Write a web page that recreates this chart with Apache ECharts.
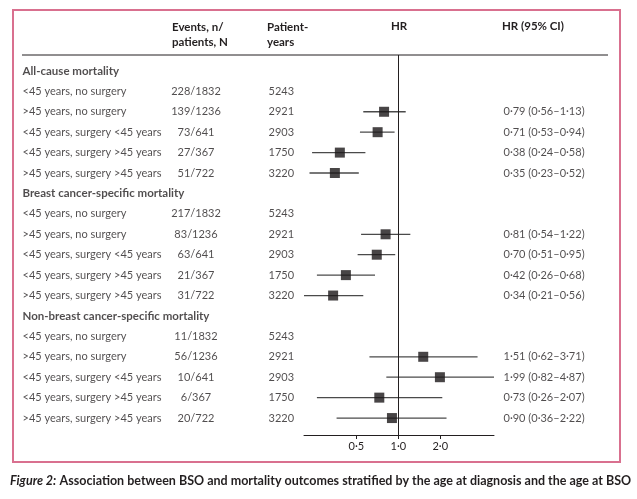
<!DOCTYPE html>
<html>
<head>
<meta charset="utf-8">
<script src="https://cdn.jsdelivr.net/npm/echarts@6/dist/echarts.min.js"></script>
<style>
  html, body { margin: 0; padding: 0; background: #fff; }
  #chart { width: 637px; height: 499px; }
</style>
</head>
<body>
<div id="chart"></div>
<script>
// outcome groups and subgroups (rows of the table)
const groups = ['All-cause mortality', 'Breast cancer-specific mortality', 'Non-breast cancer-specific mortality'];
const subgroups = ['<45 years, no surgery', '>45 years, no surgery', '<45 years, surgery <45 years',
    '<45 years, surgery >45 years', '>45 years, surgery >45 years'];

const events = [
    ['228/1832', '139/1236', '73/641', '27/367', '51/722'],
    ['217/1832', '83/1236', '63/641', '21/367', '31/722'],
    ['11/1832', '56/1236', '10/641', '6/367', '20/722']
];
const patientYears = ['5243', '2921', '2903', '1750', '3220'];

// hazard ratios and 95% CI, first subgroup is the reference
const hr = [
    [null, 0.79, 0.71, 0.38, 0.35],
    [null, 0.81, 0.70, 0.42, 0.34],
    [null, 1.51, 1.99, 0.73, 0.90]
];
const ciLow = [
    [null, 0.56, 0.53, 0.24, 0.23],
    [null, 0.54, 0.51, 0.26, 0.21],
    [null, 0.62, 0.82, 0.26, 0.36]
];
const ciHigh = [
    [null, 1.13, 0.94, 0.58, 0.52],
    [null, 1.22, 0.95, 0.68, 0.56],
    [null, 3.71, 4.87, 2.07, 2.22]
];
const hrTicks = [0.5, 1, 2];

const FONT = 'Lato';
const INK = '#231f20';

function fmt(v, digits) {
    return v.toFixed(digits).replace('.', '\u00b7');
}

// build row data: group header + 5 subgroups per group
const labelRows = [], groupRows = [], eventRows = [], pyRows = [], ciTextRows = [];
const points = [], bars = [];
let row = 0;
groups.forEach((g, gi) => {
    groupRows.push({ value: [22, row], label: { formatter: g } });
    row++;
    subgroups.forEach((s, si) => {
        labelRows.push({ value: [22, row], label: { formatter: s } });
        eventRows.push({ value: [196, row], label: { formatter: events[gi][si] } });
        pyRows.push({ value: [268, row], label: { formatter: patientYears[si] } });
        if (hr[gi][si] !== null) {
            points.push([hr[gi][si], row]);
            bars.push([ciLow[gi][si], ciHigh[gi][si], row]);
            ciTextRows.push({
                value: [503, row],
                label: { formatter: fmt(hr[gi][si], 2) + ' (' + fmt(ciLow[gi][si], 2) + '\u2013' + fmt(ciHigh[gi][si], 2) + ')' }
            });
        }
        row++;
    });
});

function textSeries(data, align, bold) {
    return {
        type: 'scatter',
        xAxisIndex: 0,
        yAxisIndex: 0,
        symbolSize: 1,
        itemStyle: { color: 'rgba(0,0,0,0)' },
        silent: true,
        data: data,
        label: {
            show: true,
            position: align === 'center' ? 'inside' : 'right',
            distance: 0,
            color: INK,
            fontFamily: FONT,
            fontSize: bold ? 11.5 : 11,
            fontWeight: bold ? 'bold' : 'normal'
        }
    };
}

const chart = echarts.init(document.getElementById('chart'), null, { renderer: 'canvas' });

const yCommon = {
    type: 'value',
    inverse: true,
    min: -0.78,
    max: 17.83,
    show: false
};

chart.setOption({
    animation: false,
    backgroundColor: '#fff',
    grid: [
        { left: 0, right: 0, top: 55, bottom: 64 },
        { left: 304, right: 143, top: 55, bottom: 64 }
    ],
    xAxis: [
        { gridIndex: 0, type: 'value', min: 0, max: 637, show: false },
        {
            gridIndex: 1,
            type: 'log',
            logBase: 2,
            min: 0.21,
            max: 4.87,
            position: 'bottom',
            axisLine: { show: true, onZero: false, lineStyle: { color: INK, width: 1 } },
            axisTick: { show: true, customValues: hrTicks, length: 4, lineStyle: { color: INK } },
            axisLabel: {
                customValues: hrTicks,
                formatter: v => fmt(v, 1),
                color: INK,
                fontFamily: FONT,
                fontSize: 11,
                margin: 6
            },
            splitLine: { show: false }
        }
    ],
    yAxis: [
        Object.assign({ gridIndex: 0 }, yCommon),
        Object.assign({ gridIndex: 1 }, yCommon)
    ],
    series: [
        textSeries(groupRows, 'left', true),
        textSeries(labelRows, 'left', false),
        textSeries(eventRows, 'center', false),
        textSeries(pyRows, 'left', false),
        textSeries(ciTextRows, 'left', false),
        {
            type: 'custom',
            xAxisIndex: 1,
            yAxisIndex: 1,
            data: bars,
            silent: true,
            renderItem: (params, api) => {
                const a = api.coord([api.value(0), api.value(2)]);
                const b = api.coord([api.value(1), api.value(2)]);
                return {
                    type: 'line',
                    shape: { x1: a[0], y1: a[1], x2: b[0], y2: b[1] },
                    style: { stroke: '#4a4a4a', lineWidth: 1.3 }
                };
            },
            z: 2
        },
        {
            type: 'scatter',
            xAxisIndex: 1,
            yAxisIndex: 1,
            symbol: 'rect',
            symbolSize: 10,
            itemStyle: { color: '#1a1718' },
            data: points,
            silent: true,
            z: 3,
            markLine: {
                silent: true,
                symbol: 'none',
                label: { show: false },
                lineStyle: { color: INK, width: 1, type: 'solid' },
                data: [{ xAxis: 1 }]
            }
        }
    ],
    graphic: [
        {
            type: 'rect',
            shape: { x: 13, y: 10, width: 607, height: 452 },
            style: { fill: 'none', stroke: '#d9708f', lineWidth: 2 }
        },
        {
            type: 'line',
            shape: { x1: 22, y1: 55, x2: 608, y2: 55 },
            style: { stroke: INK, lineWidth: 1 }
        },
        {
            type: 'text', left: 172, top: 20,
            style: { text: 'Events, n/\npatients, N', fill: INK, font: 'bold 11.5px ' + FONT, lineHeight: 15 }
        },
        {
            type: 'text', left: 267, top: 20,
            style: { text: 'Patient-\nyears', fill: INK, font: 'bold 11.5px ' + FONT, lineHeight: 15 }
        },
        {
            type: 'text', left: 391, top: 20,
            style: { text: 'HR', fill: INK, font: 'bold 11.5px ' + FONT }
        },
        {
            type: 'text', left: 502, top: 20,
            style: { text: 'HR (95% CI)', fill: INK, font: 'bold 11.5px ' + FONT }
        },
        {
            type: 'text', left: 10, top: 474,
            style: {
                text: '{i|Figure 2:} {b|Association between BSO and mortality outcomes stratified by the age at diagnosis and the age at BSO}',
                rich: {
                    i: { fill: INK, fontFamily: FONT, fontSize: 12.5, fontWeight: 'bold', fontStyle: 'italic' },
                    b: { fill: INK, fontFamily: FONT, fontSize: 12.5, fontWeight: 'bold' }
                }
            }
        }
    ]
});
</script>
</body>
</html>
